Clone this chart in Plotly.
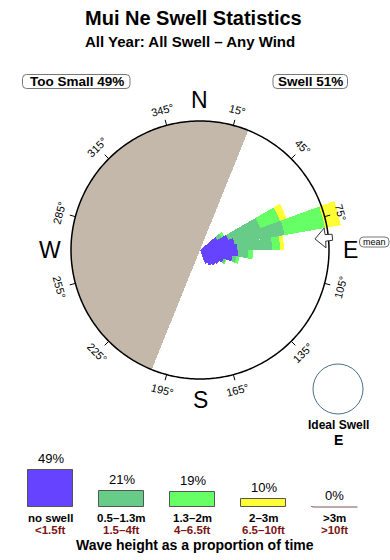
import math
import plotly.graph_objects as go

# ---------------- data ----------------
directions = [55, 65, 75, 85, 95, 105, 115, 125, 135, 145, 155]   # deg, 10 deg bins
purple_vals = [15.5, 23.3, 27.1, 28.7, 29.5, 25.6, 19.4, 17.1, 15.5, 14.0, 11.6]
teal_vals = [3.9, 26.4, 39.5, 27.1, 7.8, 3.1, 1.6, 0, 0, 0, 0]
green_vals = [2.3, 16.3, 31.8, 6.2, 3.9, 2.3, 0.8, 0, 0, 0, 0]
yellow_vals = [0, 5.4, 12.4, 3.1, 0, 0, 0, 0, 0, 0, 0]
mean_direction = 84.5
land_from, land_to = 202, 382          # land sector (deg)

tick_angles = [15, 45, 75, 105, 135, 165, 195, 225, 255, 285, 315, 345]
compass = {"N": 0, "E": 90, "S": 180, "W": 270}

categories = ["no swell", "0.5–1.3m", "1.3–2m", "2–3m", ">3m"]
ft_labels = ["<1.5ft", "1.5–4ft", "4–6.5ft", "6.5–10ft", ">10ft"]
percents = [49, 21, 19, 10, 0]
too_small_pct, swell_pct = 49, 51

# ---------------- style ----------------
W, H = 390, 560
CX, CY = 200, 250          # rose centre (px)
R_PX = 129                 # outer circle radius (px)
R_UNITS = 100              # outer circle in data units
POLAR_PX = 150             # polar domain radius (px)
FONT = "Liberation Sans, Arial, sans-serif"
C_PURPLE, C_TEAL, C_GREEN, C_YELLOW = "#6644ff", "#66cc88", "#66ff66", "#ffff33"
C_LAND = "#c4b8aa"
C_GREY = "#bbaaaa"
C_RED = "#7a1414"


def px(x):
    return x / W


def py(y):
    return 1 - y / H


def rounded_box(x0, y0, x1, y1, r=4):
    """Rounded rectangle path (pixel input -> paper coordinates)."""
    pts = []
    pts.append(f"M {px(x0 + r)},{py(y0)}")
    pts.append(f"L {px(x1 - r)},{py(y0)}")
    pts.append(f"Q {px(x1)},{py(y0)} {px(x1)},{py(y0 + r)}")
    pts.append(f"L {px(x1)},{py(y1 - r)}")
    pts.append(f"Q {px(x1)},{py(y1)} {px(x1 - r)},{py(y1)}")
    pts.append(f"L {px(x0 + r)},{py(y1)}")
    pts.append(f"Q {px(x0)},{py(y1)} {px(x0)},{py(y1 - r)}")
    pts.append(f"L {px(x0)},{py(y0 + r)}")
    pts.append(f"Q {px(x0)},{py(y0)} {px(x0 + r)},{py(y0)} Z")
    return dict(type="path", xref="paper", yref="paper", path=" ".join(pts),
                line=dict(color="#777777", width=1), fillcolor="rgba(0,0,0,0)")


fig = go.Figure()

# land sector
fig.add_trace(go.Barpolar(r=[R_UNITS], theta=[(land_from + land_to) / 2],
                          width=[land_to - land_from], marker_color=C_LAND,
                          marker_line_width=0, hoverinfo="skip", showlegend=False))
# rose petals
for vals, col in [(purple_vals, C_PURPLE), (teal_vals, C_TEAL),
                  (green_vals, C_GREEN), (yellow_vals, C_YELLOW)]:
    fig.add_trace(go.Barpolar(r=vals, theta=directions, width=[10] * len(directions),
                              marker_color=col, marker_line_width=0,
                              showlegend=False))
# outer circle
circ_t = list(range(0, 361))
fig.add_trace(go.Scatterpolar(r=[R_UNITS] * len(circ_t), theta=circ_t, mode="lines",
                              line=dict(color="black", width=1.5),
                              hoverinfo="skip", showlegend=False))
# tick marks
tr, tt = [], []
for a in tick_angles:
    tr += [R_UNITS, R_UNITS * 1.045, None]
    tt += [a, a, None]
fig.add_trace(go.Scatterpolar(r=tr, theta=tt, mode="lines",
                              line=dict(color="black", width=1),
                              hoverinfo="skip", showlegend=False))
# mean arrow
k = R_UNITS / R_PX
m = mean_direction
ar = [115.5 * k, 126 * k, 126 * k, 133 * k, 133 * k, 126 * k, 126 * k, 115.5 * k]
at = [m, m - 4.5, m - 1.5, m - 1.3, m + 1.3, m + 1.5, m + 4.5, m]
fig.add_trace(go.Scatterpolar(r=ar, theta=at, mode="lines", fill="toself",
                              fillcolor="white", line=dict(color="#333333", width=1),
                              hoverinfo="skip", showlegend=False))

# ---------------- legend bars (cartesian) ----------------
xs = list(range(len(categories)))
fig.add_trace(go.Bar(x=xs, y=percents, width=0.634,
                     marker=dict(color=[C_PURPLE, C_TEAL, C_GREEN, C_YELLOW, C_GREY],
                                 line=dict(color="#555555", width=1)),
                     showlegend=False, hoverinfo="skip"))
fig.add_trace(go.Scatter(x=[xs[-1] - 0.317, xs[-1] + 0.317], y=[percents[-1]] * 2,
                         mode="lines", line=dict(color=C_GREY, width=2),
                         showlegend=False, hoverinfo="skip"))

ann = []
ann.append(dict(text="<b>Mui Ne Swell Statistics</b>", x=px(193), y=py(18.5),
                font=dict(size=20)))
ann.append(dict(text="<b>All Year: All Swell – Any Wind</b>", x=px(190), y=py(42),
                font=dict(size=15)))
ann.append(dict(text=f"<b>Too Small {too_small_pct}%</b>", x=px(76.5), y=py(81.5),
                font=dict(size=13.5)))
ann.append(dict(text=f"<b>Swell {swell_pct}%</b>", x=px(310.5), y=py(81.5),
                font=dict(size=13.5)))
for a in tick_angles:
    rr = 145
    x = CX + rr * math.sin(math.radians(a))
    y = CY - rr * math.cos(math.radians(a))
    ta = a % 180
    if ta > 90:
        ta -= 180
    ann.append(dict(text=f"{a}°", x=px(x), y=py(y), textangle=ta, font=dict(size=11)))
for lab, a in compass.items():
    rr = 150
    x = CX + rr * math.sin(math.radians(a))
    y = CY - rr * math.cos(math.radians(a))
    ann.append(dict(text=lab, x=px(x), y=py(y), font=dict(size=23)))
ann.append(dict(text="mean", x=px(374.5), y=py(242), font=dict(size=9)))
ann.append(dict(text="<b>Ideal Swell</b>", x=px(338), y=py(425), font=dict(size=12)))
ann.append(dict(text="<b>E</b>", x=px(338), y=py(440), font=dict(size=14)))

for i, (c, f, p) in enumerate(zip(categories, ft_labels, percents)):
    ann.append(dict(text=f"{p}%", x=i, y=p, xref="x", yref="y", yanchor="bottom",
                    yshift=2, font=dict(size=13)))
    ann.append(dict(text=f"<b>{c}</b>", x=i, xref="x", y=py(518), font=dict(size=11.5)))
    ann.append(dict(text=f"<b>{f}</b>", x=i, xref="x", y=py(530),
                    font=dict(size=11.5, color=C_RED)))
ann.append(dict(text="<b>Wave height as a proportion of time</b>", x=px(194.5), y=py(545),
                font=dict(size=14)))
for a_ in ann:
    a_.setdefault("xref", "paper")
    a_.setdefault("yref", "paper")
    a_.setdefault("showarrow", False)
    a_.setdefault("xanchor", "center")
    a_.setdefault("yanchor", "middle")

shapes = [
    dict(type="circle", xref="paper", yref="paper",
         x0=px(338 - 25), x1=px(338 + 25), y0=py(389 + 25), y1=py(389 - 25),
         line=dict(color="#4d6e8c", width=1)),
    rounded_box(22.5, 74.5, 130, 88.5),
    rounded_box(273, 74.5, 347.5, 88.5),
    rounded_box(359.5, 237, 389, 247, r=4),
]

fig.update_layout(
    width=W, height=H, margin=dict(l=0, r=0, t=0, b=0),
    paper_bgcolor="white", plot_bgcolor="white",
    font=dict(family=FONT, color="black"),
    polar=dict(
        domain=dict(x=[px(CX - POLAR_PX), px(CX + POLAR_PX)],
                    y=[py(CY + POLAR_PX), py(CY - POLAR_PX)]),
        bgcolor="rgba(0,0,0,0)", barmode="stack",
        radialaxis=dict(range=[0, POLAR_PX * R_UNITS / R_PX], visible=False),
        angularaxis=dict(rotation=90, direction="clockwise", visible=False),
    ),
    xaxis=dict(domain=[0, 1], range=[-0.718, 4.775], visible=False, fixedrange=True),
    yaxis=dict(domain=[0, 0.25], range=[-69.5, 114], visible=False, fixedrange=True),
    annotations=ann,
    shapes=shapes,
    bargap=0,
)
fig.write_html("out.html")
